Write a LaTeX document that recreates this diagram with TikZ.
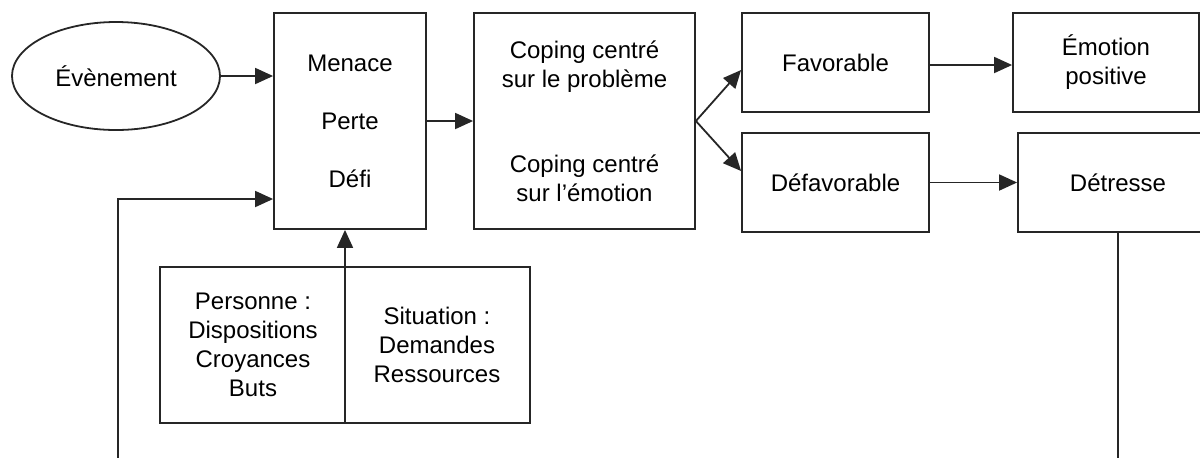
\documentclass[tikz,border=0pt]{standalone}
\usepackage{fontspec}
\setmainfont{Liberation Sans}
\usetikzlibrary{arrows.meta,shapes.geometric}

\tikzset{
  box/.style={draw, rectangle, align=center, inner sep=0pt},
  txt/.style={align=center, inner sep=0pt},
  arr/.style={-{Triangle[length=9pt,width=8pt]}},
}

\begin{document}
\begin{tikzpicture}[x=0.5pt, y=-0.5pt, line width=0.9pt, draw=black!85,
  font=\fontsize{12}{14.5}\selectfont]
\useasboundingbox (0,0) rectangle (1200,457);
\clip (0,0) rectangle (1200,457);
\node[draw, ellipse, minimum width=104pt, minimum height=54pt, inner sep=0pt] (event) at (116,76) {Évènement};
\node[box, minimum width=76pt, minimum height=108pt] (appraisal) at (350,121) {Menace\\[14.5pt]Perte\\[14.5pt]Défi};
\node[box, minimum width=110.5pt, minimum height=108pt] (coping) at (584.5,121) {Coping centré\\sur le problème\\[28pt]Coping centré\\sur l'émotion};
\node[box, minimum width=93.5pt, minimum height=49.5pt] (fav) at (835.5,62.5) {Favorable};
\node[box, minimum width=93.5pt, minimum height=49.5pt] (defav) at (835.5,182.5) {Défavorable};
\node[box, minimum width=93pt, minimum height=49.5pt] (positive) at (1106,62.5) {Émotion\\positive};
\node[box, minimum width=100pt, minimum height=49.5pt] (distress) at (1118,182.5) {Détresse};
\node[box, minimum width=185pt, minimum height=78pt] (factors) at (345,345) {};
\node[txt] (person) at (253,345) {Personne :\\Dispositions\\Croyances\\Buts};
\node[txt] (situation) at (437,345) {Situation :\\Demandes\\Ressources};
\coordinate (loopin) at (118,470);
\coordinate (loopout) at (1118,470);

\draw[arr] (event) -- (appraisal.west |- event);
\draw[arr] (appraisal.east |- coping) -- (coping);
\coordinate (fork) at (coping.east);
\draw[arr] (fork) -- (fav.west |- 0,70);
\draw[arr] (fork) -- (defav.west |- 0,171);
\draw[arr] (fav.east |- 0,65) -- (positive.west |- 0,65);
\draw[arr] (defav) -- (distress);
\draw[arr] (factors.south) -- (factors.south |- appraisal.south);
\draw[arr] (loopin) |- (appraisal.west |- 0,199);
\draw (distress.south) -- (loopout);
\end{tikzpicture}
\end{document}
